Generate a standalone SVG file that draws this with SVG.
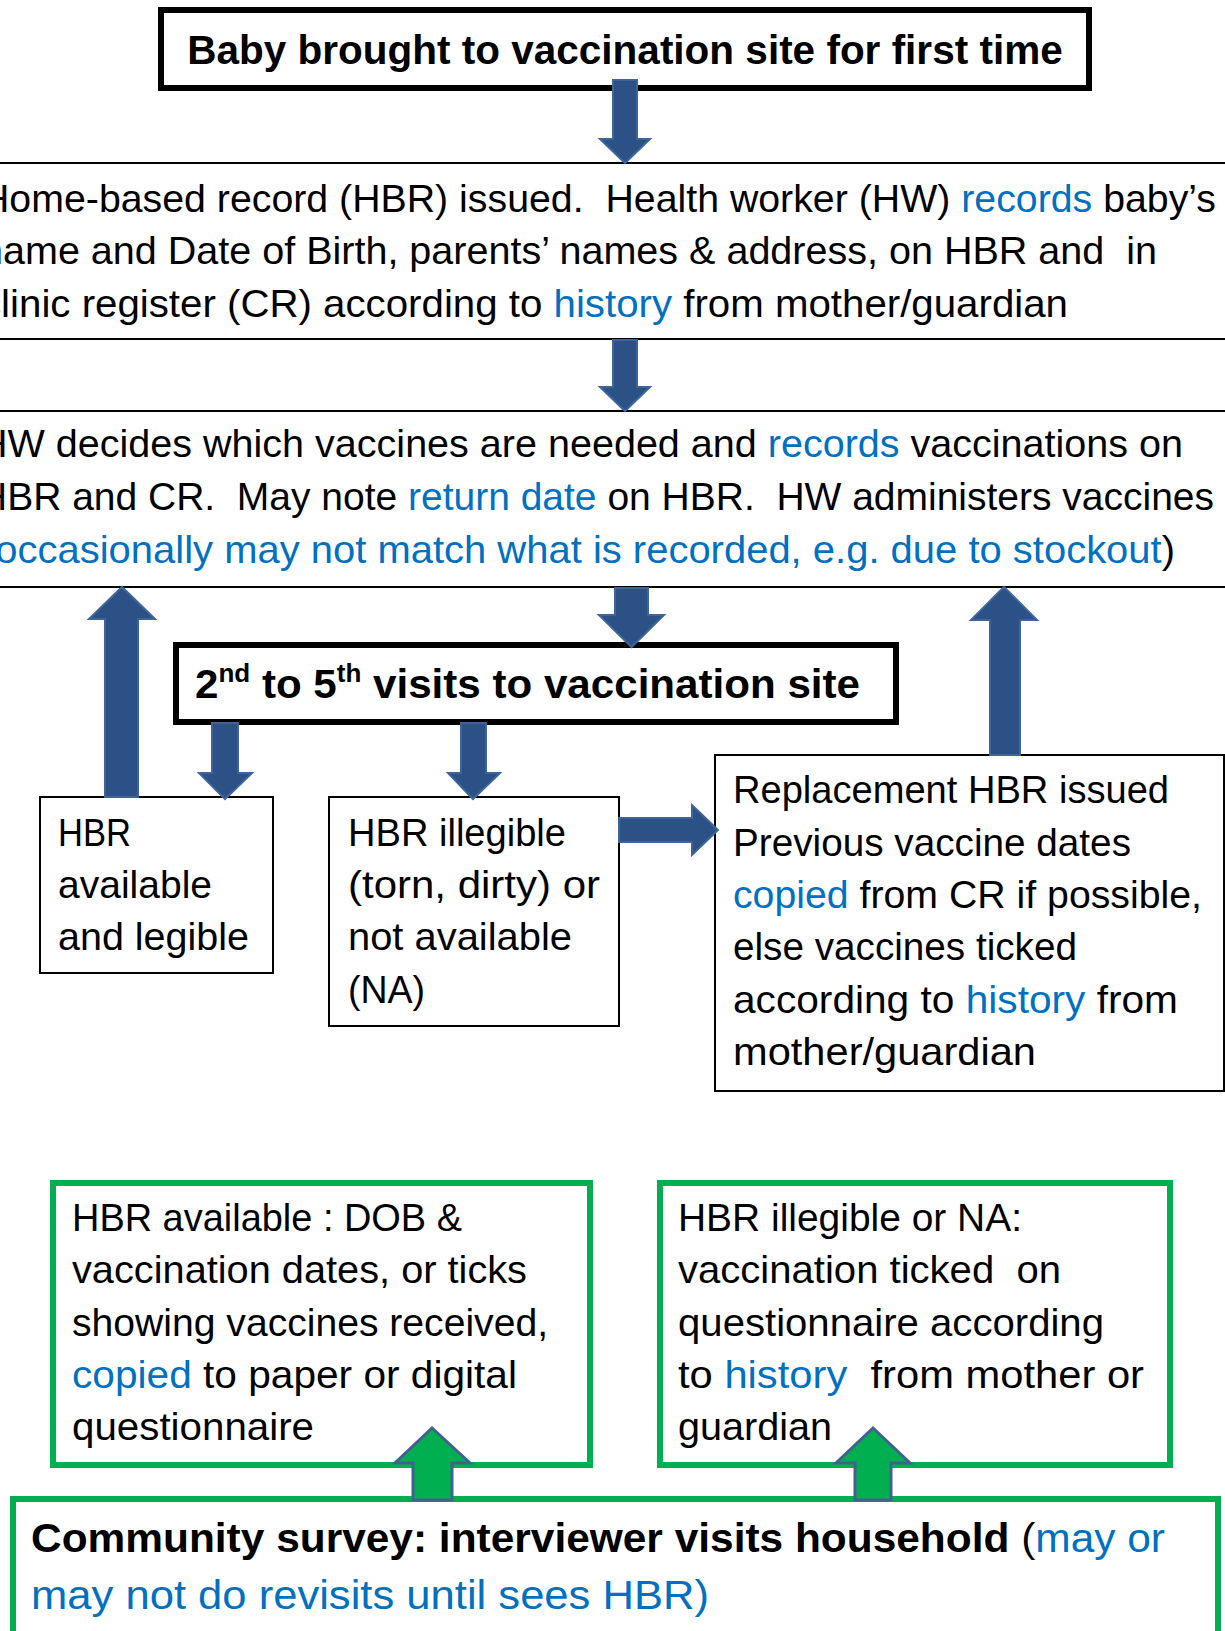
<svg xmlns="http://www.w3.org/2000/svg" width="1225" height="1631" viewBox="0 0 1225 1631" xml:space="preserve">
<style>
text{font-family:"Liberation Sans",Arial,sans-serif;font-size:39px;fill:#000;white-space:pre}
.b{font-weight:bold;font-size:40.5px}
.bt{font-size:41.5px}
.bl{fill:#0070C0}
.box{fill:#fff;stroke:#000;stroke-width:2}
.hbox{fill:#fff;stroke:#000;stroke-width:6}
.gbox{fill:#fff;stroke:#00B050;stroke-width:6}
.arr{fill:#2B5186;stroke:#3E6499;stroke-width:2}
.garr{fill:#00B050;stroke:#41628F;stroke-width:3}
</style>
<rect width="1225" height="1631" fill="#fff"/>
<g id="n1">
<rect class="hbox" x="161" y="10" width="928" height="78"/>
<text class="b" x="625" y="64" text-anchor="middle">Baby brought to vaccination site for first time</text>
</g>
<g id="n2">
<rect class="box" x="-10" y="163" width="1245" height="176"/>
<text x="-19" y="212" textLength="1235" lengthAdjust="spacingAndGlyphs">Home-based record (HBR) issued.  Health worker (HW) <tspan class="bl">records</tspan> baby’s</text>
<text x="-19" y="264" textLength="1176" lengthAdjust="spacingAndGlyphs">name and Date of Birth, parents’ names &amp; address, on HBR and  in</text>
<text x="-19" y="317" textLength="1087" lengthAdjust="spacingAndGlyphs">clinic register (CR) according to <tspan class="bl">history</tspan> from mother/guardian</text>
</g>
<g id="n3">
<rect class="box" x="-10" y="411" width="1245" height="176"/>
<text x="-21" y="457" textLength="1204" lengthAdjust="spacingAndGlyphs">HW decides which vaccines are needed and <tspan class="bl">records</tspan> vaccinations on</text>
<text x="-21" y="510" textLength="1235" lengthAdjust="spacingAndGlyphs">HBR and CR.  May note <tspan class="bl">return date</tspan> on HBR.  HW administers vaccines</text>
<text x="-18" y="563" textLength="1193" lengthAdjust="spacingAndGlyphs">(<tspan class="bl">occasionally may not match what is recorded, e.g. due to stockout</tspan>)</text>
</g>
<g id="n4">
<rect class="hbox" x="176" y="645" width="720" height="77"/>
<text class="b" x="195" y="698" textLength="665" lengthAdjust="spacingAndGlyphs">2<tspan font-size="25" dy="-16">nd</tspan><tspan dy="16"> to 5</tspan><tspan font-size="25" dy="-16">th</tspan><tspan dy="16"> visits to vaccination site</tspan></text>
</g>
<g id="n5">
<rect class="box" x="40" y="797" width="233" height="176"/>
<text x="58" y="846" textLength="73" lengthAdjust="spacingAndGlyphs">HBR</text>
<text x="58" y="898" textLength="154" lengthAdjust="spacingAndGlyphs">available</text>
<text x="58" y="950" textLength="191" lengthAdjust="spacingAndGlyphs">and legible</text>
</g>
<g id="n6">
<rect class="box" x="329" y="797" width="290" height="229"/>
<text x="348" y="846" textLength="218" lengthAdjust="spacingAndGlyphs">HBR illegible</text>
<text x="348" y="898" textLength="252" lengthAdjust="spacingAndGlyphs">(torn, dirty) or</text>
<text x="348" y="950" textLength="224" lengthAdjust="spacingAndGlyphs">not available</text>
<text x="348" y="1003" textLength="77" lengthAdjust="spacingAndGlyphs">(NA)</text>
</g>
<g id="n7">
<rect class="box" x="715" y="755" width="509" height="336"/>
<text x="733" y="803" textLength="436" lengthAdjust="spacingAndGlyphs">Replacement HBR issued</text>
<text x="733" y="856" textLength="398" lengthAdjust="spacingAndGlyphs">Previous vaccine dates</text>
<text x="733" y="908" textLength="469" lengthAdjust="spacingAndGlyphs"><tspan class="bl">copied</tspan> from CR if possible,</text>
<text x="733" y="960" textLength="344" lengthAdjust="spacingAndGlyphs">else vaccines ticked</text>
<text x="733" y="1013" textLength="445" lengthAdjust="spacingAndGlyphs">according to <tspan class="bl">history</tspan> from</text>
<text x="733" y="1065" textLength="303" lengthAdjust="spacingAndGlyphs">mother/guardian</text>
</g>
<g id="n8">
<rect class="gbox" x="53" y="1183" width="537" height="282"/>
<text x="72" y="1231" textLength="390" lengthAdjust="spacingAndGlyphs">HBR available : DOB &amp;</text>
<text x="72" y="1283" textLength="455" lengthAdjust="spacingAndGlyphs">vaccination dates, or ticks</text>
<text x="72" y="1336" textLength="476" lengthAdjust="spacingAndGlyphs">showing vaccines received,</text>
<text x="72" y="1388" textLength="445" lengthAdjust="spacingAndGlyphs"><tspan class="bl">copied</tspan> to paper or digital</text>
<text x="72" y="1440" textLength="242" lengthAdjust="spacingAndGlyphs">questionnaire</text>
</g>
<g id="n9">
<rect class="gbox" x="660" y="1183" width="510" height="282"/>
<text x="678" y="1231" textLength="344" lengthAdjust="spacingAndGlyphs">HBR illegible or NA:</text>
<text x="678" y="1283" textLength="383" lengthAdjust="spacingAndGlyphs">vaccination ticked  on</text>
<text x="678" y="1336" textLength="426" lengthAdjust="spacingAndGlyphs">questionnaire according</text>
<text x="678" y="1388" textLength="466" lengthAdjust="spacingAndGlyphs">to <tspan class="bl">history</tspan>  from mother or</text>
<text x="678" y="1440" textLength="154" lengthAdjust="spacingAndGlyphs">guardian</text>
</g>
<g id="n10">
<rect class="gbox" x="13" y="1499" width="1205" height="160"/>
<text class="bt" x="31" y="1552" textLength="1134" lengthAdjust="spacingAndGlyphs"><tspan font-weight="bold">Community survey: interviewer visits household</tspan> (<tspan class="bl">may or</tspan></text>
<text class="bt bl" x="31" y="1609" textLength="678" lengthAdjust="spacingAndGlyphs">may not do revisits until sees HBR)</text>
</g>
<g id="connectors">
<polygon class="arr" points="613,80 637,80 637,139 650,139 625,163 600,139 613,139"/>
<polygon class="arr" points="613,340 637,340 637,387 650,387 625,411 600,387 613,387"/>
<polygon class="arr" points="615,588 648,588 648,615 664,615 631.5,647 599,615 615,615"/>
<polygon class="arr" points="105,797 105,619 89,619 122,587 155,619 138,619 138,797"/>
<polygon class="arr" points="990,755 990,620 971,620 1004,587 1037,620 1020,620 1020,755"/>
<polygon class="arr" points="212,723 238,723 238,773 252,773 225,799 199,773 212,773"/>
<polygon class="arr" points="461,723 486,723 486,773 500,773 473,799 448,773 461,773"/>
<polygon class="arr" points="619,818 692,818 692,805 718,830 692,855 692,842 619,842"/>
<polygon class="garr" points="413,1500 413,1463 395,1463 432,1428 470,1463 452,1463 452,1500"/>
<polygon class="garr" points="855,1500 855,1463 836,1463 873,1428 910,1463 891,1463 891,1500"/>
</g>
</svg>
